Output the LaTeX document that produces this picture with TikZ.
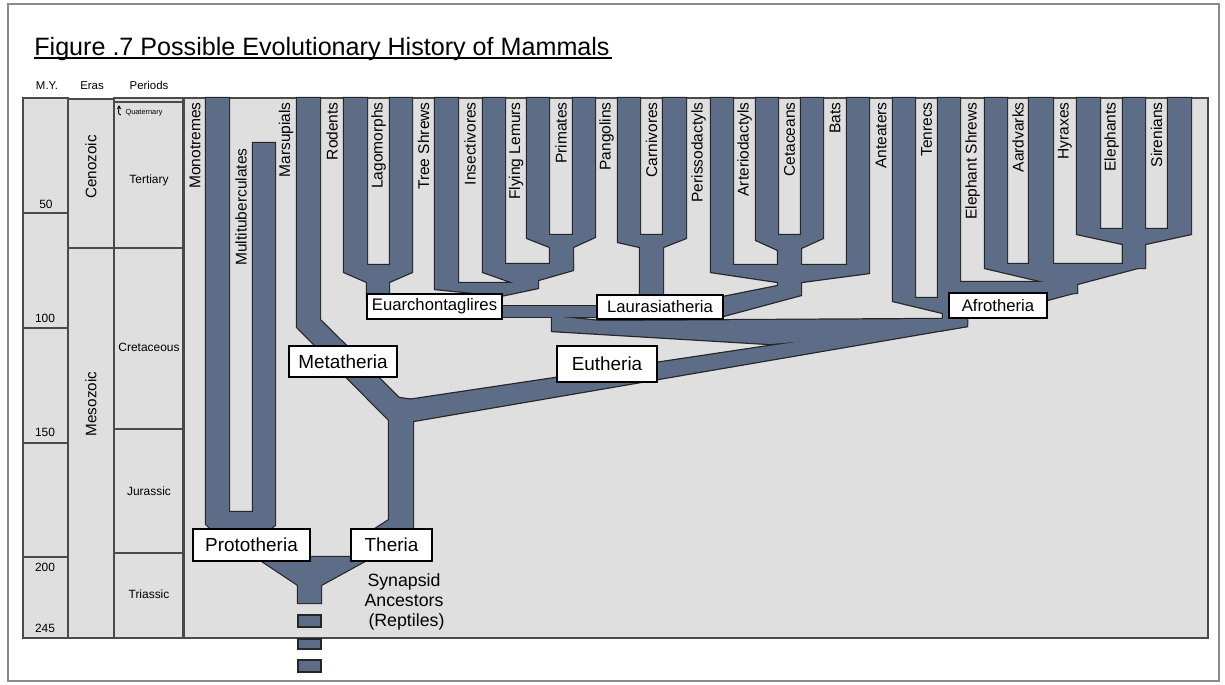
\documentclass[tikz,border=0pt]{standalone}
\usepackage{fontspec}
\setmainfont{Liberation Sans}
\usetikzlibrary{arrows.meta}
\definecolor{areagray}{HTML}{DFDFDF}
\definecolor{branch}{HTML}{5D6D88}
\definecolor{edgec}{HTML}{262626}
\definecolor{rulec}{HTML}{4A4A4A}
\definecolor{framec}{HTML}{8A8A8A}
\tikzset{
  tine/.style={rotate=90, anchor=east, inner sep=0pt, font=\fontsize{8.84}{10}\selectfont},
  cbox/.style={draw=black, fill=white, line width=0.6pt, inner sep=0pt, font=\fontsize{10.77}{12}\selectfont},
  gbox/.style={cbox, font=\fontsize{9.5}{11}\selectfont},
  brline/.style={draw=edgec, line width=1.4pt, line join=miter},
  brfill/.style={fill=branch},
  col/.style={draw=rulec, fill=areagray, line width=0.6pt},
  tick/.style={draw=rulec, line width=0.6pt},
  numlbl/.style={inner sep=0pt, font=\fontsize{6.8}{8}\selectfont},
  perlbl/.style={inner sep=0pt, font=\fontsize{6.8}{8}\selectfont},
  eralbl/.style={inner sep=0pt, rotate=90, font=\fontsize{8.67}{10}\selectfont},
  headlbl/.style={inner sep=0pt, font=\fontsize{6.5}{8}\selectfont},
}
\def\brProto{(206,98)--(206,524)--(213,531)--(267,531)--(275,525)--(275,143)--(253,143)--(253,512)--(229,512)--(229,98)--cycle}
\def\brFunnel{(256,557)--(298,585)--(298,603)--(321,603)--(321,585)--(372,557)--cycle}
\def\brMeta{(297,98)--(297,327)--(389,420)--(389,520)--(372,531)--(413,531)--(413,400)--(399,398)--(320,320)--(320,98)--cycle}
\def\brEuth{(395,402)--(943,320)--(967,318)--(967,326)--(413,421)--(400,421)--cycle}
\def\brAfroStem{(943,310)--(943,330)--(967,326)--(967,305)--cycle}
\def\brAnt{(893,98)--(893,301)--(943,313)--(943,322)--(967,322)--(967,298)--(915,298)--(915,98)--cycle}
\def\brTen{(938,98)--(938,300)--(1047,300)--(1077,292)--(1077,282)--(960,282)--(960,98)--cycle}
\def\brES{(985,98)--(985,268)--(1053,284)--(1053,293)--(1077,293)--(1077,284)--(1145,266)--(1145,244)--(1123,244)--(1123,264)--(1053,264)--(1053,98)--(1029,98)--(1029,264)--(1007,264)--(1007,98)--cycle}
\def\brTri{(1077,98)--(1077,234)--(1123,244)--(1123,268)--(1145,268)--(1145,244)--(1191,234)--(1191,98)--(1168,98)--(1168,229)--(1145,229)--(1145,98)--(1123,98)--(1123,229)--(1100,229)--(1100,98)--cycle}
\def\brPC{(618,98)--(618,242)--(640,247)--(640,300)--(663,300)--(663,247)--(686,238)--(686,98)--(663,98)--(663,235)--(640,235)--(640,98)--cycle}
\def\brAC{(756,98)--(756,240)--(778,250)--(778,270)--(801,270)--(801,248)--(823,238)--(823,98)--(801,98)--(801,235)--(778,235)--(778,98)--cycle}
\def\brPer{(711,98)--(711,272)--(778,282)--(778,286)--(723,297)--(723,316)--(801,295)--(801,282)--(869,273)--(869,98)--(847,98)--(847,265)--(733,265)--(733,98)--cycle}
\def\brRL{(344,98)--(344,272)--(367,282)--(367,300)--(389,300)--(389,282)--(412,272)--(412,98)--(390,98)--(390,265)--(367,265)--(367,98)--cycle}
\def\brFP{(527,98)--(527,238)--(550,247)--(550,268)--(573,268)--(573,247)--(595,237)--(595,98)--(573,98)--(573,235)--(549,235)--(549,98)--cycle}
\def\brTI{(435,98)--(435,289)--(475,293)--(500,296)--(538,288)--(538,280)--(573,270)--(573,264)--(505,264)--(505,98)--(483,98)--(483,272)--(514,283)--(458,283)--(458,98)--cycle}
\def\brEL{(495,306)--(600,306)--(600,317)--(495,317)--cycle}
\def\brBor{(552,316)--(600,321)--(943,319)--(943,330)--(770,344)--(552,331)--cycle}
\begin{document}
\begin{tikzpicture}[x=0.02cm,y=-0.02cm]
\useasboundingbox (0,0) rectangle (1225,684);
\fill[white] (0,0) rectangle (1225,684);
\draw[framec, line width=0.8pt] (8,4) rectangle (1219,681);
% title
\node[anchor=base west, inner sep=0pt, font=\fontsize{14.3}{16}\selectfont] (title) at (34,55) {Figure .7 Possible Evolutionary History of Mammals};
\draw[line width=0.8pt] (title.base west) ++(0,3) -- ++(578,0);
% headings
\node[headlbl] (hmy) at (47,86) {M.Y.};
\node[headlbl] (hera) at (92,86) {Eras};
\node[headlbl] (hper) at (149,85) {Periods};
% time scale columns
\path[col] (23,98) rectangle (68,638);
\path[col] (68,99) rectangle (114,638);
\path[col] (114,98) rectangle (183,638);
\foreach \yy in {213,328,443,557} \draw[tick] (23,\yy) -- (68,\yy);
\draw[tick] (68,248) -- (114,248);
\foreach \yy in {102,248,429,553} \draw[tick] (114,\yy) -- (183,\yy);
\node[numlbl] (n50) at (46,204) {50};
\node[numlbl] (n100) at (45,318) {100};
\node[numlbl] (n150) at (45,432) {150};
\node[numlbl] (n200) at (45,567) {200};
\node[numlbl] (n245) at (45,628) {245};
\node[eralbl] (ceno) at (91,167) {Cenozoic};
\node[eralbl] (meso) at (91,404) {Mesozoic};
\node[perlbl] (tert) at (149,180) {Tertiary};
\node[perlbl] (cret) at (149,347) {Cretaceous};
\node[perlbl] (jura) at (149,491) {Jurassic};
\node[perlbl] (tria) at (149,594) {Triassic};
\node[inner sep=0pt, font=\fontsize{4.2}{5}\selectfont] (quat) at (144,113) {Quaternary};
\draw[-{Stealth[length=2.5pt,width=2.5pt]}, line width=0.5pt] (121,115) to[out=180,in=-90] (119,105);
% main area
\path[col] (184,98) rectangle (1208,638);
% branches: outline pass, then fill pass
\foreach \p in {\brProto,\brFunnel,\brMeta,\brEuth,\brAfroStem,\brAnt,\brTen,\brES,\brTri,\brPC,\brAC,\brPer,\brRL,\brFP,\brTI,\brEL,\brBor}{
  \draw[brline] \p;
}
\foreach \p in {\brProto,\brFunnel,\brMeta,\brEuth,\brAfroStem,\brAnt,\brTen,\brES,\brTri,\brPC,\brAC,\brPer,\brRL,\brFP,\brTI,\brEL,\brBor}{
  \fill[brfill] \p;
}
% ancestor dashes
\foreach \ya/\yb in {615/627,639/649,660/672}{
  \draw[draw=edgec, fill=branch, line width=0.7pt] (298,\ya) rectangle (321,\yb);
}
% tine labels
\foreach \xx/\tt [count=\i] in {195/Monotremes,286/Marsupials,332/Rodents,378.5/Lagomorphs,423.5/Tree Shrews,470/Insectivores,516/Flying Lemurs,561/Primates,606.5/Pangolins,651.5/Carnivores,698.5/Perissodactyls,744.5/Arteriodactyls,789.5/Cetaceans,835/Bats,881/Anteaters,926.5/Tenrecs,972.5/Elephant Shrews,1018/Aardvarks,1065/Hyraxes,1111.5/Elephants,1156.5/Sirenians}{
  \node[tine] (tine\i) at (\xx,102) {\tt};
}
\node[tine] (multi) at (241,148) {Multituberculates};
% clade boxes
\node[cbox, minimum width=117*0.02cm, minimum height=32*0.02cm] (proto) at (251.5,545) {Prototheria};
\node[cbox, minimum width=81*0.02cm, minimum height=32*0.02cm] (theria) at (391.5,545) {Theria};
\node[cbox, minimum width=108*0.02cm, minimum height=31*0.02cm] (meta) at (343,361.5) {Metatheria};
\node[cbox, minimum width=100*0.02cm, minimum height=36*0.02cm] (euth) at (607,364) {Eutheria};
\node[gbox, minimum width=135*0.02cm, minimum height=25*0.02cm] (euarch) at (434.5,306.5) {Euarchontaglires};
\node[gbox, minimum width=126*0.02cm, minimum height=24*0.02cm] (laur) at (660,307) {Laurasiatheria};
\node[gbox, minimum width=98*0.02cm, minimum height=25*0.02cm] (afro) at (998,305.5) {Afrotheria};
% ancestors text
\node[align=center, inner sep=0pt, font=\fontsize{10.1}{11.3}\selectfont] (syn) at (404,602) {Synapsid\\Ancestors\\\ (Reptiles)};
\end{tikzpicture}
\end{document}
